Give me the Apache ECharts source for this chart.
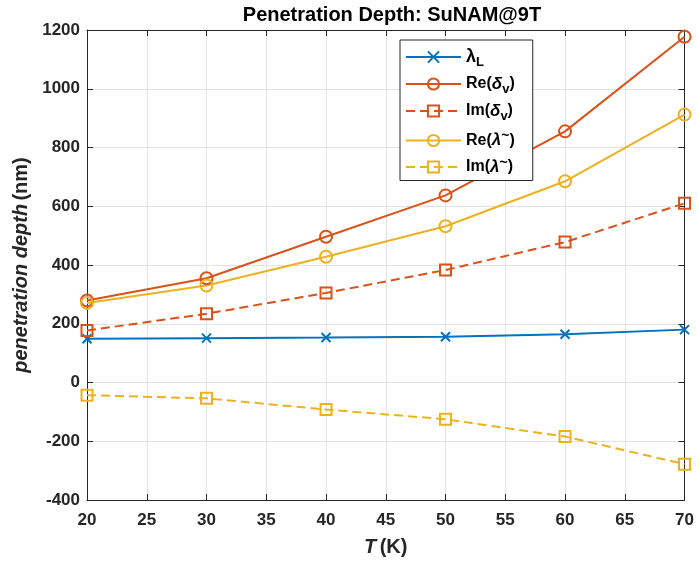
<!DOCTYPE html>
<html>
<head>
<meta charset="utf-8">
<script src="https://cdn.jsdelivr.net/npm/echarts@6/dist/echarts.min.js"></script>
<style>
  html, body { margin: 0; padding: 0; background: #fff; }
  #chart { width: 697px; height: 562px; }
</style>
</head>
<body>
<div id="chart"></div>
<script>
// Temperatures (K)
const temperatures = [20, 30, 40, 50, 60, 70];

// Penetration depths (nm)
const lambdaL   = [149, 151, 153, 156, 164, 180];
const reDeltaV  = [279, 355, 496, 637, 855, 1177];
const imDeltaV  = [177, 234, 305, 383, 478, 610];
const reLambdaT = [271, 330, 428, 532, 685, 912];
const imLambdaT = [-43, -54, -92, -125, -184, -278];

const seriesNames = ['lamL', 'reDv', 'imDv', 'reLt', 'imLt'];
const legendLabels = {
  lamL: '{g|λ}{sub|L}',
  reDv: 'Re({gi|δ}{sub|v})',
  imDv: 'Im({gi|δ}{sub|v})',
  reLt: 'Re({gi|λ}{sup|~})',
  imLt: 'Im({gi|λ}{sup|~})'
};

const BLUE = '#0072BD', ORANGE = '#D95319', YELLOW = '#EDB120';
const AXIS = '#262626', GRID = '#e3e3e3';
const FONT = '"Liberation Sans", Arial, Helvetica, sans-serif';

const pairs = (ys) => temperatures.map((t, i) => [t, ys[i]]);
const crossPath = 'path://M0,0L10,10M10,0L0,10';

function mk(name, ys, color, symbol, dashed) {
  const isCross = symbol === crossPath;
  return {
    name: name,
    type: 'line',
    data: pairs(ys),
    symbol: symbol,
    symbolSize: isCross ? 9 : (symbol === 'rect' ? 11 : 12),
    showAllSymbol: true,
    lineStyle: { color: color, width: 2, type: dashed ? [9, 5] : 'solid' },
    itemStyle: { color: isCross ? color : 'rgba(0,0,0,0)', borderColor: color, borderWidth: 2 },
    emphasis: { disabled: true },
    z: 3,
    animation: false
  };
}

const chart = echarts.init(document.getElementById('chart'), null, { renderer: 'canvas' });

const labelStyle = { color: AXIS, fontFamily: FONT, fontWeight: 'bold', fontSize: 17 };
const nameRich = {
  i: { fontFamily: FONT, fontWeight: 'bold', fontStyle: 'italic', fontSize: 20, color: AXIS },
  n: { fontFamily: FONT, fontWeight: 'bold', fontSize: 20, color: AXIS }
};

chart.setOption({
  animation: false,
  backgroundColor: '#fff',
  title: {
    text: 'Penetration Depth: SuNAM@9T',
    left: 387, top: 0, textAlign: 'center',
    textStyle: { fontFamily: FONT, fontWeight: 'bold', fontSize: 20, color: '#000' }
  },
  grid: { left: 87, right: 10, top: 30, bottom: 60, show: false },
  legend: {
    data: seriesNames,
    orient: 'vertical',
    left: 400, top: 40,
    padding: [8, 18, 5, 5],
    itemWidth: 55, itemHeight: 14, itemGap: 7,
    backgroundColor: '#fff',
    borderColor: AXIS, borderWidth: 1,
    selectedMode: false,
    formatter: (n) => legendLabels[n],
    textStyle: {
      fontFamily: FONT, fontWeight: 'bold', fontSize: 16, color: '#000',
      rich: {
        g: { fontFamily: FONT, fontWeight: 'bold', fontSize: 18, color: '#000' },
        gi: { fontFamily: FONT, fontWeight: 'bold', fontStyle: 'italic', fontSize: 17, color: '#000' },
        sub: { fontFamily: FONT, fontWeight: 'bold', fontSize: 13, color: '#000', padding: [10, 0, 0, 0] },
        sup: { fontFamily: FONT, fontWeight: 'bold', fontSize: 14, color: '#000', padding: [0, 0, 8, 0] }
      }
    }
  },
  xAxis: [{
    type: 'value', min: 20, max: 70, interval: 5,
    name: '{i|T} {n|(K)}', nameLocation: 'middle', nameGap: 37,
    nameTextStyle: { rich: nameRich },
    axisLine: { show: true, onZero: false, lineStyle: { color: AXIS, width: 1 } },
    axisTick: { show: true, inside: true, length: 6, lineStyle: { color: AXIS } },
    axisLabel: Object.assign({ margin: 12 }, labelStyle),
    splitLine: { show: true, lineStyle: { color: GRID, width: 1 } }
  }, {
    type: 'value', min: 20, max: 70, interval: 5, position: 'top',
    axisLine: { show: true, onZero: false, lineStyle: { color: AXIS, width: 1 } },
    axisTick: { show: true, inside: true, length: 6, lineStyle: { color: AXIS } },
    axisLabel: { show: false }, splitLine: { show: false }
  }],
  yAxis: [{
    type: 'value', min: -400, max: 1200, interval: 200,
    name: '{i|penetration depth} {n|(nm)}', nameLocation: 'middle', nameGap: 55, nameRotate: 90,
    nameTextStyle: { rich: nameRich },
    axisLine: { show: true, onZero: false, lineStyle: { color: AXIS, width: 1 } },
    axisTick: { show: true, inside: true, length: 6, lineStyle: { color: AXIS } },
    axisLabel: Object.assign({ margin: 7, formatter: (v) => String(v) }, labelStyle),
    splitLine: { show: true, lineStyle: { color: GRID, width: 1 } }
  }, {
    type: 'value', min: -400, max: 1200, interval: 200, position: 'right',
    axisLine: { show: true, onZero: false, lineStyle: { color: AXIS, width: 1 } },
    axisTick: { show: true, inside: true, length: 6, lineStyle: { color: AXIS } },
    axisLabel: { show: false }, splitLine: { show: false }
  }],
  series: [
    mk('lamL', lambdaL, BLUE, crossPath, false),
    mk('reDv', reDeltaV, ORANGE, 'circle', false),
    mk('imDv', imDeltaV, ORANGE, 'rect', true),
    mk('reLt', reLambdaT, YELLOW, 'circle', false),
    mk('imLt', imLambdaT, YELLOW, 'rect', true)
  ]
});
</script>
</body>
</html>
